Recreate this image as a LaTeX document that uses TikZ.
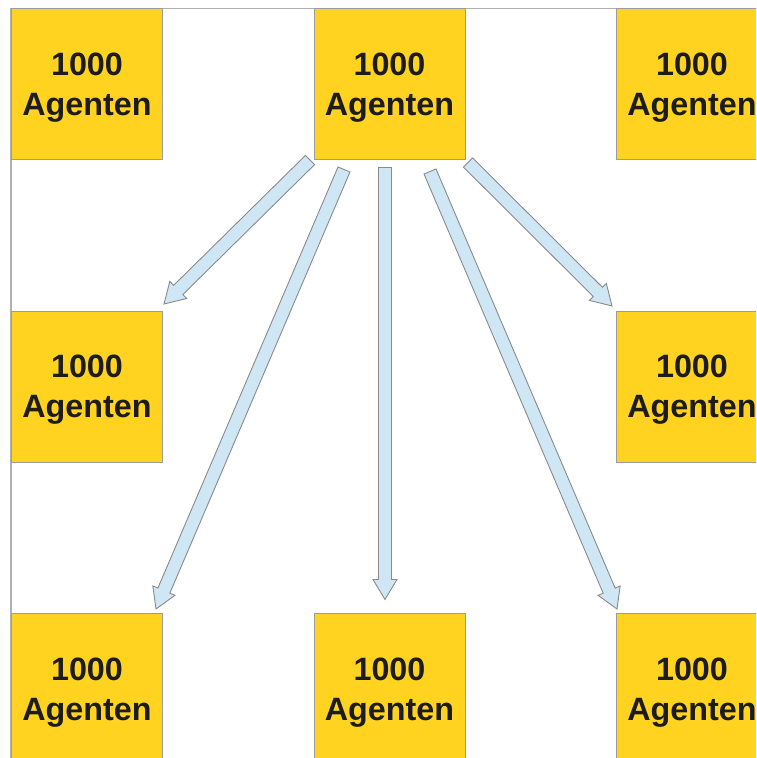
\documentclass[tikz,border=0pt]{standalone}
\usepackage{fontspec}
\setmainfont{Liberation Sans}
\usetikzlibrary{calc}

\definecolor{agentfill}{HTML}{FFD320}
\definecolor{agentline}{HTML}{9C9C9C}
\definecolor{arrowfill}{HTML}{CFE7F5}
\definecolor{arrowline}{HTML}{8A8A8A}
\definecolor{framegray}{HTML}{B0B0B0}
\definecolor{textdark}{HTML}{1C1C1C}

\tikzset{
  agentbox/.style={draw=agentline, line width=1pt, fill=agentfill,
    minimum width=151pt, minimum height=151pt, inner sep=0pt,
    align=center, text=textdark,
    font=\fontsize{32.3}{40}\selectfont\bfseries},
  blockarr/.style={draw=arrowline, line width=0.9pt, fill=arrowfill, line join=miter},
  pageframe/.style={draw=framegray, line width=1.3pt}
}

% block arrow from tail coordinate #1 to tip coordinate #2
\newcommand{\blockarrow}[2]{%
  \coordinate (hb) at ($(#2)!20pt!(#1)$);
  \draw[blockarr]
    ($(#1)!6.5pt!90:(#2)$) -- ($(hb)!6.5pt!90:(#2)$) --
    ($(hb)!12pt!90:(#2)$) -- (#2) --
    ($(hb)!12pt!-90:(#2)$) -- ($(hb)!6.5pt!-90:(#2)$) --
    ($(#1)!6.5pt!-90:(#2)$) -- cycle;
}

\newcommand{\agenttext}{1000\\\raisebox{0pt}[\height][0pt]{Agenten}}

\begin{document}
\begin{tikzpicture}[x=1pt,y=-1pt]
  \clip (0,0) rectangle (756,758);
  \fill[white] (0,0) rectangle (756,758);

  % page frame
  \draw[pageframe] (11,8.5) rectangle (900,900);

  % grid of agent groups
  \node[agentbox] (a11) at (87,84)    {\agenttext};
  \node[agentbox] (a12) at (389.5,84) {\agenttext};
  \node[agentbox] (a13) at (692,84)   {\agenttext};
  \node[agentbox] (a21) at (87,386.5) {\agenttext};
  \node[agentbox] (a23) at (692,386.5){\agenttext};
  \node[agentbox] (a31) at (87,689)   {\agenttext};
  \node[agentbox] (a32) at (389.5,689){\agenttext};
  \node[agentbox] (a33) at (692,689)  {\agenttext};

  % arrow tails below the central top group
  \coordinate (t1) at (310,160);
  \coordinate (t2) at (344,169.5);
  \coordinate (t3) at (385,167.5);
  \coordinate (t4) at (430,171.5);
  \coordinate (t5) at (468,162.5);

  % arrow tips near the receiving groups
  \coordinate (p1) at (164,304);
  \coordinate (p2) at (156,609);
  \coordinate (p3) at (385,599.5);
  \coordinate (p4) at (617,609);
  \coordinate (p5) at (612,306);

  \blockarrow{t1}{p1}
  \blockarrow{t2}{p2}
  \blockarrow{t3}{p3}
  \blockarrow{t4}{p4}
  \blockarrow{t5}{p5}
\end{tikzpicture}
\end{document}
